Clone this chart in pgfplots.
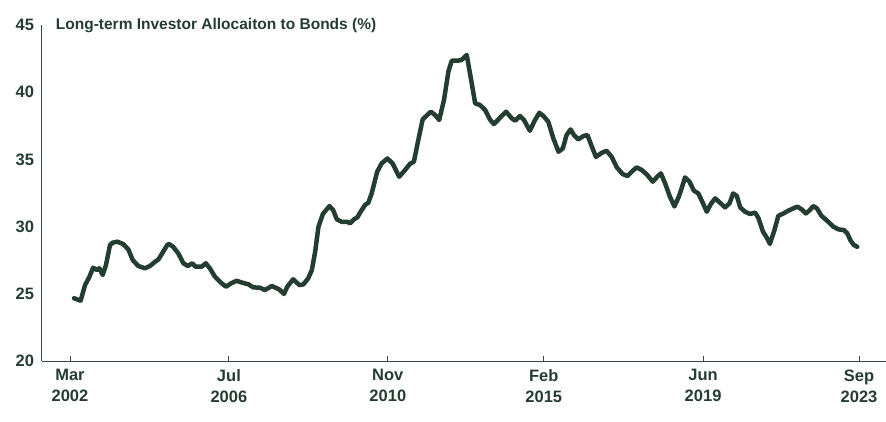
\documentclass[border=0pt]{standalone}
\usepackage{fontspec}
\setmainfont{Liberation Sans}
\usepackage{pgfplots}
\pgfplotsset{compat=1.18}
\definecolor{dg}{HTML}{243D31}
\definecolor{axc}{HTML}{3A4A42}
\pgfplotstableread{
x y
2002.28 24.67
2002.46 24.49
2002.58 25.65
2002.70 26.27
2002.80 26.94
2002.91 26.77
2002.97 26.90
2003.06 26.40
2003.15 27.14
2003.26 28.63
2003.33 28.80
2003.46 28.88
2003.62 28.70
2003.76 28.30
2003.88 27.51
2004.03 27.07
2004.21 26.90
2004.35 27.07
2004.49 27.39
2004.58 27.56
2004.71 28.13
2004.82 28.63
2004.87 28.70
2004.98 28.50
2005.12 28.01
2005.26 27.27
2005.38 27.07
2005.50 27.27
2005.59 27.02
2005.76 27.02
2005.87 27.27
2005.98 26.90
2006.12 26.27
2006.28 25.83
2006.42 25.53
2006.56 25.78
2006.71 25.97
2006.86 25.83
2007.03 25.71
2007.16 25.48
2007.35 25.45
2007.48 25.28
2007.67 25.58
2007.87 25.33
2008.00 24.99
2008.09 25.53
2008.25 26.08
2008.42 25.65
2008.53 25.70
2008.66 26.15
2008.76 26.77
2008.85 28.13
2008.94 29.99
2009.06 30.94
2009.24 31.53
2009.34 31.23
2009.44 30.54
2009.57 30.36
2009.73 30.36
2009.80 30.24
2009.91 30.54
2010.00 30.69
2010.09 31.11
2010.21 31.61
2010.30 31.78
2010.39 32.47
2010.54 34.08
2010.66 34.70
2010.82 35.07
2010.96 34.70
2011.14 33.71
2011.30 34.21
2011.43 34.66
2011.54 34.83
2011.66 36.44
2011.78 37.98
2012.00 38.55
2012.12 38.30
2012.23 37.93
2012.36 39.42
2012.48 41.53
2012.57 42.34
2012.72 42.34
2012.84 42.40
2012.98 42.77
2013.10 40.91
2013.21 39.17
2013.34 39.05
2013.48 38.68
2013.61 37.98
2013.72 37.63
2013.87 38.05
2014.05 38.55
2014.21 38.05
2014.30 37.88
2014.43 38.23
2014.54 37.93
2014.70 37.13
2014.84 37.93
2014.96 38.47
2015.07 38.23
2015.20 37.81
2015.34 36.57
2015.48 35.57
2015.60 35.82
2015.70 36.81
2015.81 37.23
2015.90 36.81
2016.02 36.49
2016.16 36.74
2016.27 36.81
2016.39 35.94
2016.50 35.19
2016.66 35.49
2016.79 35.64
2016.93 35.19
2017.07 34.40
2017.23 33.91
2017.36 33.76
2017.50 34.15
2017.61 34.40
2017.75 34.21
2017.90 33.84
2018.05 33.34
2018.17 33.71
2018.27 33.96
2018.38 33.26
2018.52 32.20
2018.64 31.50
2018.77 32.30
2018.93 33.66
2019.05 33.34
2019.17 32.67
2019.29 32.47
2019.41 31.78
2019.52 31.11
2019.63 31.68
2019.75 32.10
2019.88 31.78
2020.02 31.43
2020.14 31.73
2020.24 32.47
2020.34 32.28
2020.43 31.43
2020.56 31.11
2020.70 30.94
2020.84 31.04
2020.93 30.62
2021.05 29.63
2021.15 29.20
2021.24 28.71
2021.36 29.70
2021.47 30.80
2021.61 30.98
2021.74 31.18
2021.88 31.36
2021.99 31.48
2022.11 31.28
2022.22 30.98
2022.33 31.23
2022.42 31.53
2022.52 31.36
2022.65 30.79
2022.83 30.36
2022.97 29.99
2023.11 29.79
2023.26 29.74
2023.35 29.49
2023.44 28.95
2023.53 28.63
2023.62 28.50
}\datatable
\begin{document}
\begin{tikzpicture}
\begin{axis}[
  name=ax,
  at={(0,0)}, anchor=south west,
  scale only axis, width=844bp, height=336bp,
  xmin=2001.407, xmax=2024.404, ymin=20, ymax=45,
  axis x line=bottom, axis y line=left,
  axis line style={-, draw=axc, line width=1bp},
  xtick={2002.17,2006.5,2010.83,2015.08,2019.42,2023.67},
  xticklabels={Mar\\2002, Jul\\2006, Nov\\2010, Feb\\2015, Jun\\2019, Sep\\2023},
  xticklabel style={align=center, font=\fontsize{16.5bp}{21bp}\selectfont\bfseries, text=dg, yshift=-5bp},
  ytick={20,25,30,35,40,45},
  yticklabel style={font=\fontsize{16.5bp}{19bp}\selectfont\bfseries, text=dg, xshift=-4.5bp},
  /pgf/number format/assume math mode=true,
  x tick style={draw=axc, line width=1bp},
  y tick style={draw=none},
  major tick length=5bp, tick align=inside,
  clip=false,
]
\addplot[color=dg, line width=4.5bp, line join=round, line cap=round] table[x=x,y=y] {\datatable};
\end{axis}
\node[anchor=base west, inner sep=0pt, font=\fontsize{15.5bp}{18bp}\selectfont\bfseries, text=dg]
  at ([shift={(13.7bp,-5bp)}]ax.north west) {Long-term Investor Allocaiton to Bonds (\%)};
\pgfresetboundingbox
\useasboundingbox (-42bp,-61bp) rectangle (844bp,361bp);
\end{tikzpicture}
\end{document}
